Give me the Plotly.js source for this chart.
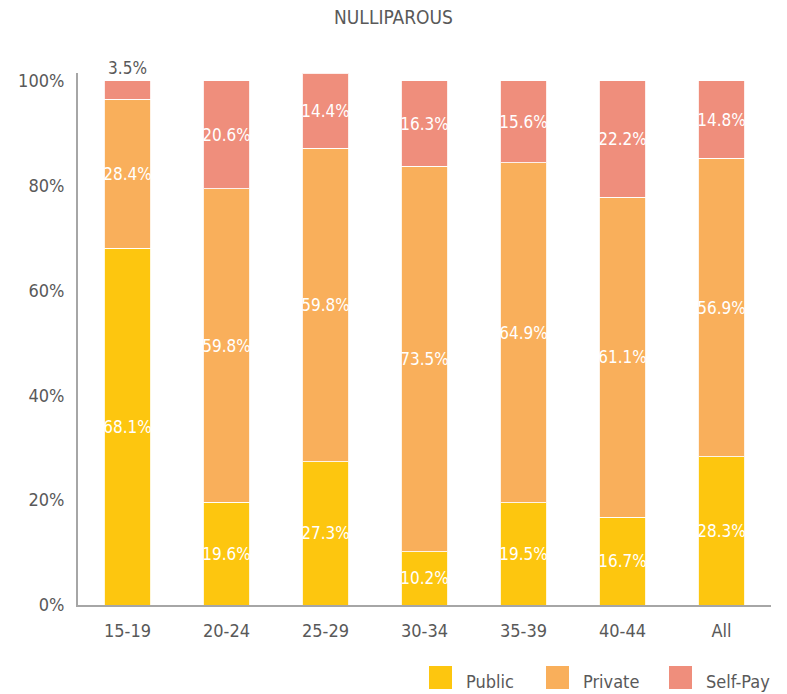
<!DOCTYPE html>
<html>
<head>
<meta charset="utf-8">
<script src="https://cdn.plot.ly/plotly-3.0.1.min.js"></script>
<style>html,body{margin:0;padding:0;background:#fff;}#chart{width:787px;height:694px;}</style>
</head>
<body>
<div id="chart"></div>
<script>
const categories = ['15-19', '20-24', '25-29', '30-34', '35-39', '40-44', 'All'];
const publicVals  = [68.1, 19.6, 27.3, 10.2, 19.5, 16.7, 28.3];
const privateVals = [28.4, 59.8, 59.8, 73.5, 64.9, 61.1, 56.9];
const selfPayVals = [3.5, 20.6, 14.4, 16.3, 15.6, 22.2, 14.8];
const seriesNames = ['Public', 'Private', 'Self-Pay'];
const yTickVals = [0, 20, 40, 60, 80, 100];
const yTickText = ['0%', '20%', '40%', '60%', '80%', '100%'];
const chartTitle = 'NULLIPAROUS';

const colors = ['#FDC60F', '#F9AF5B', '#EF8E7C'];
const narrow = '"Liberation Sans Narrow", "Arial Narrow", "DejaVu Sans Condensed", sans-serif';
const tickFam = '"DejaVu Sans Condensed", "Liberation Sans", sans-serif';
const gray = '#595959';

function fmt(v) { return v.toFixed(1) + '%'; }

const seriesVals = [publicVals, privateVals, selfPayVals];
const traces = seriesVals.map((vals, i) => {
  const pos = vals.map(v => (i === 2 && v < 5) ? 'outside' : 'inside');
  return {
    type: 'bar',
    name: seriesNames[i],
    x: categories,
    y: vals,
    text: vals.map(fmt),
    textposition: pos,
    insidetextanchor: 'middle',
    textangle: 0,
    constraintext: 'none',
    cliponaxis: false,
    insidetextfont: {family: narrow, size: 17, color: '#ffffff'},
    outsidetextfont: {family: tickFam, size: 17, color: gray},
    marker: {color: colors[i], line: {color: 'rgba(255,255,255,0.85)', width: 1}},
    hoverinfo: 'x+y+name',
    showlegend: false
  };
});

// Legend drawn in paper coordinates
const L = 78, R = 771, T = 73, B = 605;
const W = R - L, H = B - T;
const px = x => (x - L) / W;
const py = y => (B - y) / H;
const legendX = [429, 546, 669];
const shapes = [];
const annotations = [];
seriesNames.forEach((n, i) => {
  shapes.push({type: 'rect', xref: 'paper', yref: 'paper',
    x0: px(legendX[i]), x1: px(legendX[i] + 23), y0: py(689), y1: py(666),
    fillcolor: colors[i], line: {width: 0}});
  annotations.push({xref: 'paper', yref: 'paper', x: px(legendX[i] + 35), y: py(681),
    xanchor: 'left', yanchor: 'middle', text: n, showarrow: false,
    font: {family: tickFam, size: 18, color: gray}});
});

const layout = {
  width: 787, height: 694,
  margin: {l: L, r: 787 - R, t: T, b: 694 - B},
  paper_bgcolor: '#ffffff', plot_bgcolor: '#ffffff',
  barmode: 'stack',
  bargap: 0.535,
  showlegend: false,
  title: {text: chartTitle, x: 0.5, xanchor: 'center', y: 1 - 17/694, yanchor: 'middle',
    font: {family: narrow, size: 19, color: gray}},
  xaxis: {
    type: 'category', showgrid: false, zeroline: false,
    showline: true, linecolor: '#A6A6A6', linewidth: 2,
    ticks: 'outside', ticklen: 8, tickcolor: 'rgba(0,0,0,0)',
    tickfont: {family: tickFam, size: 18, color: gray}
  },
  yaxis: {
    range: [0, 101.5], showgrid: false, zeroline: false,
    showline: true, linecolor: '#A6A6A6', linewidth: 2,
    tickvals: yTickVals, ticktext: yTickText,
    ticks: 'outside', ticklen: 8, tickcolor: 'rgba(0,0,0,0)',
    tickfont: {family: tickFam, size: 18, color: gray}
  },
  shapes: shapes,
  annotations: annotations
};

Plotly.newPlot('chart', traces, layout, {displayModeBar: false, staticPlot: true});
</script>
</body>
</html>
